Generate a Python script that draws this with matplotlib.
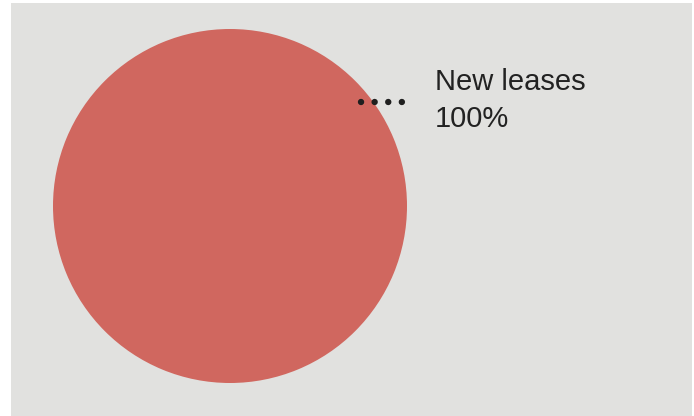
import matplotlib.pyplot as plt
import matplotlib.patches as mpatches
import numpy as np

plt.rcParams["font.family"] = ["Liberation Sans", "DejaVu Sans"]

# Data
labels = ["New leases"]
shares = [100]
colors = ["#d0675f"]

W, H = 694, 416
fig = plt.figure(figsize=(W / 100, H / 100), dpi=100, facecolor="white")

ax = fig.add_axes([0, 0, 1, 1])

# Grey panel
ax.add_patch(mpatches.Rectangle((11, 3), 692 - 11, H - 3, facecolor="#e1e1df",
                                edgecolor="none", zorder=0))

cx, cy, r = 230, 206, 177
ax.pie(shares, colors=colors, center=(cx, cy), radius=r, startangle=90,
       counterclock=False, wedgeprops=dict(linewidth=0, zorder=1))
ax.set_xlim(0, W)
ax.set_ylim(H, 0)
ax.set_aspect("equal")
ax.axis("off")

# Leader dots and label
ang = np.deg2rad(38.6)
x0, y0 = cx + 167 * np.cos(ang), cy - 167 * np.sin(ang)
x1 = x0 + 41
ax.plot([x0, x1], [y0, y0], color="#1f1f1f", linewidth=4.6, zorder=2,
        linestyle=(0, (0.01, 2.12)), dash_capstyle="round")

for lab, val in zip(labels, shares):
    ax.text(x0 + 74, y0 - 1, f"{lab}\n{val}%", fontsize=21, color="#222222",
            ha="left", va="center", linespacing=1.42, zorder=3)

fig.savefig("out.png", dpi=100, facecolor="white")
